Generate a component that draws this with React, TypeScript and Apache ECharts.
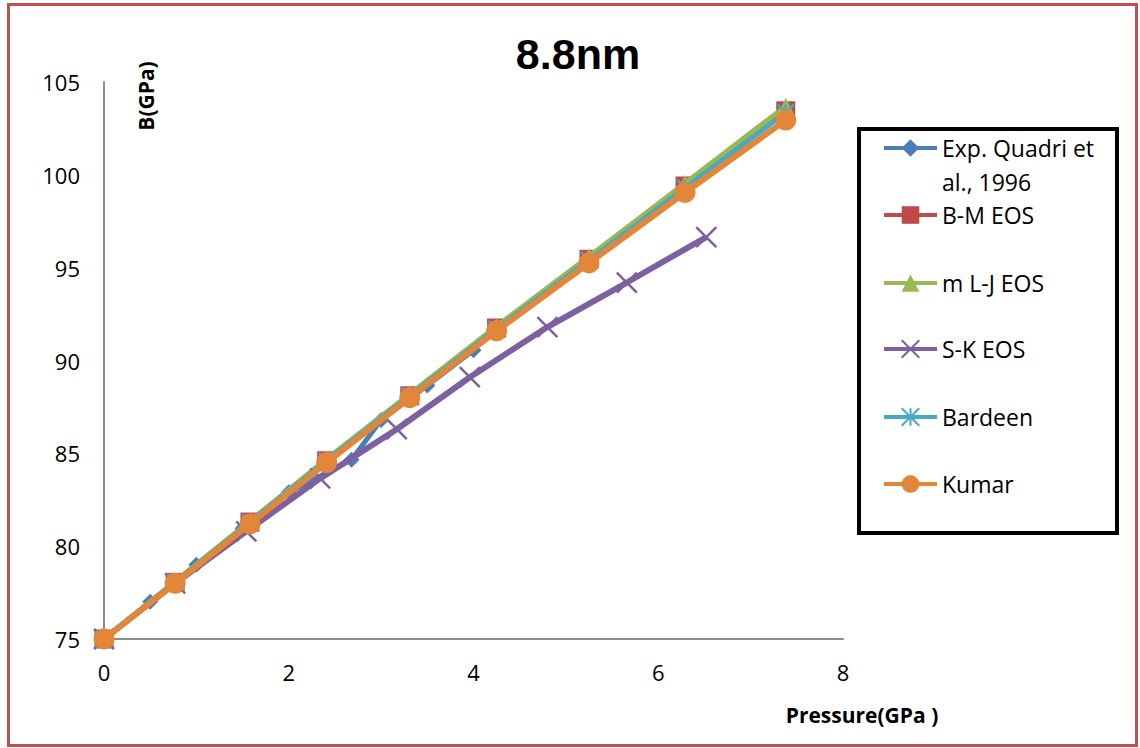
import React, { useEffect, useRef } from "react";
import * as echarts from "echarts";

// ---- data ----
const SERIES_NAMES = ["Exp. Quadri et\nal., 1996", "B-M EOS", "m L-J EOS", "S-K EOS", "Bardeen", "Kumar"];
const EXP_P = [0, 0.5, 1.0, 1.5, 2.0, 2.68, 3.0, 3.5, 4.0];
const EXP_B = [75, 77.0, 79.0, 80.95, 82.9, 84.65, 86.8, 88.65, 90.55];
const MODEL_P = [0, 0.77, 1.58, 2.41, 3.31, 4.25, 5.25, 6.29, 7.38];
const BM_B = [75, 78.05, 81.3, 84.6, 88.1, 91.75, 95.45, 99.4, 103.45];
const MLJ_B = [75, 78.1, 81.35, 84.7, 88.2, 91.85, 95.6, 99.55, 103.7];
const SK_P = [0, 0.77, 1.54, 2.34, 3.17, 3.96, 4.8, 5.66, 6.52];
const SK_B = [75, 78.0, 80.8, 83.65, 86.3, 89.1, 91.8, 94.2, 96.65];
const BARDEEN_B = [75, 78.05, 81.3, 84.6, 88.1, 91.7, 95.4, 99.3, 103.35];
const KUMAR_B = [75, 78.0, 81.2, 84.5, 88.0, 91.6, 95.25, 99.05, 102.95];
const X_TICKS = { min: 0, max: 8, interval: 2 };
const Y_TICKS = { min: 75, max: 105, interval: 5 };

const COLORS = ["#4A7EBB", "#BE4B48", "#98B954", "#7D60A0", "#46AAC5", "#E2873A"];
const X_PATH = "path://M0,0L10,10M10,0L0,10";
const STAR_PATH = "path://M5,0L5,10M0,0L10,10M10,0L0,10";

const zip = (xs: number[], ys: number[]) => xs.map((x, i) => [x, ys[i]]);

const TEXT_FONT = "Open Sans";
const LEG_CENTERS = [148, 215, 283, 349, 417, 484];
const LINE_H = 34;

export default function App() {
  const ref = useRef<HTMLDivElement>(null);
  useEffect(() => {
    if (!ref.current) return;
    const chart = echarts.init(ref.current, null, { renderer: "svg" });

    const symbols = ["diamond", "rect", "triangle", X_PATH, STAR_PATH, "circle"];
    const sizes = [16, 19, 17, 20, 16, 21];
    const widths = [5, 5, 5, 6, 5, 6];
    const datas = [
      zip(EXP_P, EXP_B),
      zip(MODEL_P, BM_B),
      zip(MODEL_P, MLJ_B),
      zip(SK_P, SK_B),
      zip(MODEL_P, BARDEEN_B),
      zip(MODEL_P, KUMAR_B),
    ];

    const series = SERIES_NAMES.map((name, i) => {
      const isPath = i === 3 || i === 4;
      return {
        name,
        type: "line",
        data: datas[i],
        color: COLORS[i],
        symbol: symbols[i],
        symbolSize: sizes[i],
        showAllSymbol: true,
        lineStyle: { width: widths[i], color: COLORS[i] },
        itemStyle: isPath
          ? { color: COLORS[i], borderColor: COLORS[i], borderWidth: 2.5 }
          : { color: COLORS[i], borderWidth: 0 },
        z: 2 + i,
      };
    });

    const legends = SERIES_NAMES.map((name, i) => {
      const isPath = i === 3 || i === 4;
      const blockH = i === 0 ? 3 * LINE_H : LINE_H;
      return {
        show: true,
        orient: "vertical",
        left: 882,
        top: LEG_CENTERS[i] - blockH / 2,
        padding: 0,
        itemGap: 0,
        itemWidth: 53,
        itemHeight: 22,
        data: [name],
        selectedMode: false,
        formatter: i === 0 ? (n: string) => "\n" + n : undefined,
        lineStyle: { type: "solid", width: 4 },
        itemStyle: isPath ? { borderColor: COLORS[i], borderWidth: 2 } : { borderWidth: 0 },
        textStyle: {
          fontFamily: TEXT_FONT,
          fontSize: 23,
          color: "#000",
          lineHeight: LINE_H,
        },
        z: 10,
      };
    });

    chart.setOption({
      animation: false,
      backgroundColor: "#fff",
      title: {
        text: "8.8nm",
        left: 573,
        top: 27,
        textAlign: "center",
        textStyle: { fontFamily: "Liberation Sans", fontWeight: "bold", fontSize: 43, color: "#000" },
      },
      graphic: [
        {
          type: "rect",
          shape: { x: 8.5, y: 4.5, width: 1128, height: 741 },
          style: { fill: "none", stroke: "#C0504D", lineWidth: 3 },
          z: 0,
        },
        {
          type: "rect",
          shape: { x: 859, y: 129, width: 258, height: 404 },
          style: { fill: "#fff", stroke: "#000", lineWidth: 4 },
          z: 0,
        },
        {
          type: "text",
          x: 146,
          y: 96,
          rotation: Math.PI / 2,
          style: {
            text: "B(GPa)",
            fontFamily: TEXT_FONT,
            fontWeight: "bold",
            fontSize: 21,
            fill: "#000",
            align: "center",
            verticalAlign: "middle",
          },
        },
        {
          type: "text",
          x: 862,
          y: 715,
          style: {
            text: "Pressure(GPa )",
            fontFamily: TEXT_FONT,
            fontWeight: "bold",
            fontSize: 21,
            fill: "#000",
            align: "center",
            verticalAlign: "middle",
          },
        },
      ],
      legend: legends,
      grid: { left: 104, right: 297, top: 82, bottom: 109, containLabel: false },
      xAxis: {
        type: "value",
        min: X_TICKS.min,
        max: X_TICKS.max,
        interval: X_TICKS.interval,
        axisLine: { show: true, onZero: false, lineStyle: { color: "#8C8C8C", width: 2 } },
        axisTick: { show: false },
        splitLine: { show: false },
        axisLabel: { margin: 22, fontFamily: TEXT_FONT, fontSize: 22, color: "#000" },
      },
      yAxis: {
        type: "value",
        min: Y_TICKS.min,
        max: Y_TICKS.max,
        interval: Y_TICKS.interval,
        axisLine: { show: true, lineStyle: { color: "#8C8C8C", width: 2 } },
        axisTick: { show: false },
        splitLine: { show: false },
        axisLabel: { margin: 24, fontFamily: TEXT_FONT, fontSize: 22, color: "#000" },
      },
      series,
    });
    return () => chart.dispose();
  }, []);

  return (
    <div
      ref={ref}
      style={{ position: "fixed", left: 0, top: 0, width: 1140, height: 748, background: "#fff" }}
    />
  );
}
